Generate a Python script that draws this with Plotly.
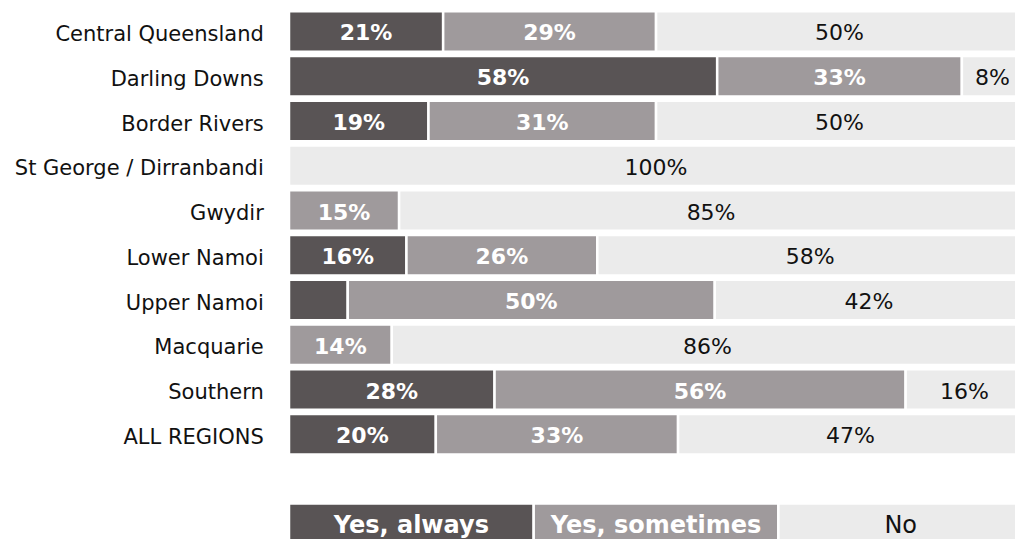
import plotly.graph_objects as go

# Survey responses by region (percent of respondents)
regions = [
    "Central Queensland", "Darling Downs", "Border Rivers", "St George / Dirranbandi",
    "Gwydir", "Lower Namoi", "Upper Namoi", "Macquarie", "Southern", "ALL REGIONS",
]
yes_always = [21, 58.33, 19, 0, 0, 16, 8, 0, 28, 20]
yes_sometimes = [29, 33.33, 31, 0, 15, 26, 50, 14, 56, 33]
no = [50, 8.33, 50, 100, 85, 58, 42, 86, 16, 47]

series_names = ["Yes, always", "Yes, sometimes", "No"]
colors = ["#595455", "#9f9a9c", "#ebebeb"]
text_colors = ["#ffffff", "#ffffff", "#111111"]
weights = ["bold", "bold", "normal"]

MIN_LABEL = 8.2   # segments at or below this share carry no label
TEXT_DROP = 0.08  # labels sit slightly below the bar centre line
FONT = "DejaVu Sans"

rows = list(range(len(regions)))
legend_row = len(regions) + 1
bar_w = 0.905
gap_line = dict(color="white", width=2.5)

fig = go.Figure()

all_series = [yes_always, yes_sometimes, no]
base = [0.0] * len(regions)
for name, vals, col, tcol, w in zip(series_names, all_series, colors, text_colors, weights):
    fig.add_trace(go.Bar(
        y=rows, x=vals, base=base, orientation="h", name=name,
        width=bar_w, marker=dict(color=col, line=gap_line),
        hoverinfo="skip", showlegend=False,
    ))
    # value labels centred on each segment
    lab_x, lab_y, lab_t = [], [], []
    for i, v in enumerate(vals):
        if v > MIN_LABEL:
            lab_x.append(base[i] + v / 2)
            lab_y.append(i + TEXT_DROP)
            lab_t.append(f"{v:.0f}%")
    fig.add_trace(go.Scatter(
        x=lab_x, y=lab_y, text=lab_t, mode="text",
        textposition="middle center",
        textfont=dict(family=FONT, size=22, color=tcol, weight=w),
        hoverinfo="skip", showlegend=False, cliponaxis=False,
    ))
    base = [b + v for b, v in zip(base, vals)]

# Key drawn as its own stacked bar beneath the regions
key_share = 100 / 3
for k, (name, col, tcol, w) in enumerate(zip(series_names, colors, text_colors, weights)):
    fig.add_trace(go.Bar(
        y=[legend_row], x=[key_share], base=[k * key_share], orientation="h",
        width=bar_w, marker=dict(color=col, line=gap_line),
        hoverinfo="skip", showlegend=False,
    ))
    fig.add_trace(go.Scatter(
        x=[k * key_share + key_share / 2], y=[legend_row + TEXT_DROP],
        text=[name], mode="text", textposition="middle center",
        textfont=dict(family=FONT, size=24, color=tcol, weight=w),
        hoverinfo="skip", showlegend=False, cliponaxis=False,
    ))

fig.update_layout(
    barmode="overlay",
    width=1015, height=539,
    margin=dict(l=289, r=0, t=9, b=0),
    paper_bgcolor="white", plot_bgcolor="white",
    xaxis=dict(range=[0, 98.9], visible=False, fixedrange=True),
    yaxis=dict(
        range=[11.34, -0.5],
        tickvals=[r + 0.05 for r in rows], ticktext=regions,
        tickfont=dict(family=FONT, size=21, color="#111111"),
        ticks="outside", ticklen=20, tickcolor="rgba(0,0,0,0)",
        showgrid=False, zeroline=False, showline=False, fixedrange=True,
    ),
)

fig.write_html("out.html")
